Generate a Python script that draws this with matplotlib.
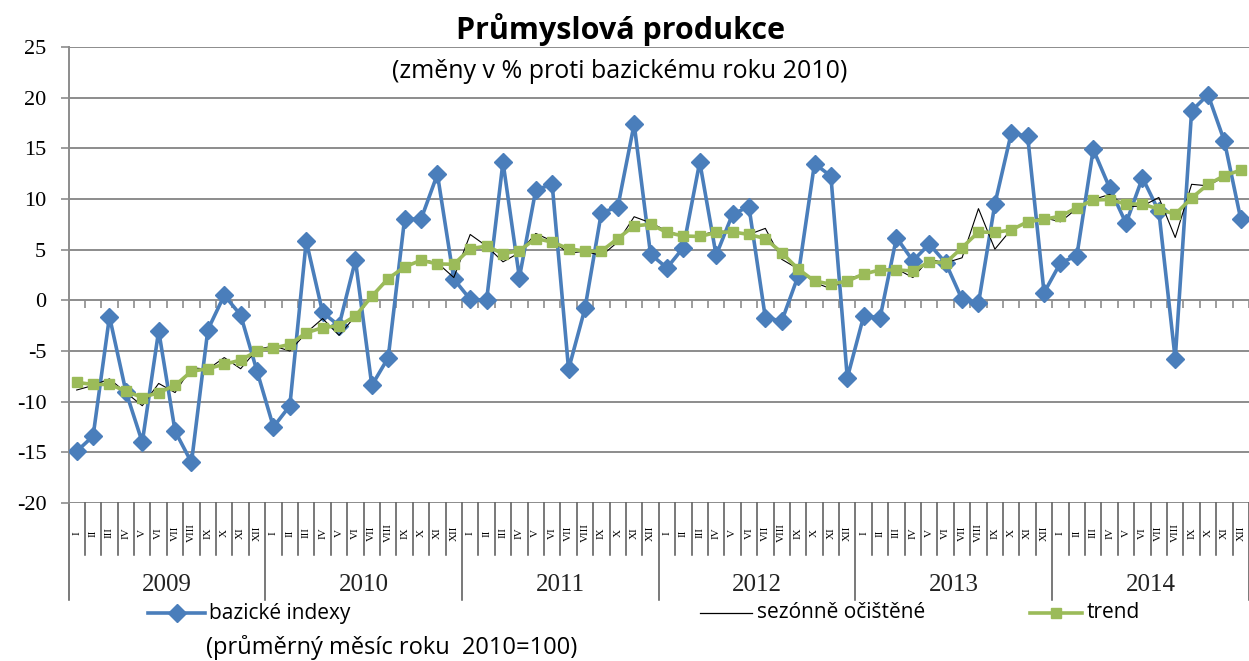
import matplotlib
matplotlib.use("Agg")
import matplotlib.pyplot as plt
from matplotlib.lines import Line2D
import matplotlib.transforms as mtransforms

plt.rcParams['axes.unicode_minus'] = False

# ---------------- data ----------------
years = ["2009", "2010", "2011", "2012", "2013", "2014"]
months = ["I", "II", "III", "IV", "V", "VI", "VII", "VIII", "IX", "X", "XI", "XII"]

bazicke = [-14.9, -13.4, -1.6, -9.0, -14.0, -3.0, -12.9, -16.0, -2.9, 0.5, -1.45, -7.0,
           -12.5, -10.4, 5.85, -1.2, -2.5, 3.95, -8.4, -5.65, 8.05, 8.0, 12.45, 2.1,
           0.1, 0.0, 13.65, 2.25, 10.9, 11.45, -6.8, -0.8, 8.65, 9.2, 17.4, 4.55,
           3.2, 5.2, 13.65, 4.45, 8.5, 9.25, -1.7, -2.05, 2.4, 13.5, 12.25, -7.65,
           -1.55, -1.7, 6.2, 3.9, 5.55, 3.7, 0.1, -0.3, 9.5, 16.5, 16.2, 0.75,
           3.7, 4.4, 14.9, 11.1, 7.6, 12.1, 8.8, -5.8, 18.7, 20.3, 15.7, 8.0]

sezonne = [-8.85, -8.4, -7.75, -9.1, -10.4, -8.2, -9.1, -6.65, -6.8, -5.65, -6.75, -4.85,
           -4.5, -5.0, -3.2, -1.8, -3.45, -1.55, 0.5, 2.25, 3.2, 4.05, 3.7, 2.25,
           6.5, 5.35, 3.8, 4.7, 6.6, 5.85, 4.65, 4.85, 4.4, 5.75, 8.25, 7.65,
           6.85, 6.35, 6.4, 6.85, 6.75, 6.5, 7.1, 4.05, 3.1, 1.75, 1.15, 2.15,
           2.55, 3.05, 3.1, 2.25, 4.05, 3.7, 4.2, 9.05, 5.05, 7.0, 7.8, 8.15,
           7.75, 9.05, 9.95, 10.45, 9.25, 9.3, 10.15, 6.2, 11.45, 11.3, 12.2, 12.9]

trend = [-8.1, -8.3, -8.3, -8.95, -9.6, -9.1, -8.4, -7.0, -6.75, -6.3, -5.9, -5.0,
         -4.7, -4.35, -3.2, -2.7, -2.5, -1.55, 0.4, 2.15, 3.3, 3.95, 3.6, 3.55,
         5.1, 5.35, 4.6, 4.9, 6.1, 5.75, 5.1, 4.85, 4.85, 6.1, 7.35, 7.5,
         6.7, 6.35, 6.3, 6.7, 6.75, 6.5, 6.1, 4.7, 3.1, 1.9, 1.6, 1.9,
         2.6, 3.0, 3.0, 2.9, 3.8, 3.7, 5.2, 6.75, 6.7, 6.95, 7.75, 8.0,
         8.3, 9.15, 9.9, 9.95, 9.5, 9.5, 9.0, 8.5, 10.1, 11.45, 12.3, 12.85]

yticks = [-20, -15, -10, -5, 0, 5, 10, 15, 20, 25]

# ---------------- style ----------------
BLUE = "#4a7ebb"
GREEN = "#9bbb59"
GRID = "#8c8c8c"
SANS = ["Open Sans", "DejaVu Sans"]
SERIF = ["Liberation Serif", "DejaVu Serif"]

W, H = 1249, 661
fig = plt.figure(figsize=(W / 100, H / 100), dpi=100)
ax = fig.add_axes([68.5 / W, (H - 503) / H, (W - 68.5) / W, 456 / H])

n = len(bazicke)
x = list(range(n))

ax.plot(x, bazicke, color=BLUE, lw=2.6, marker="D", ms=9, mec=BLUE, mfc=BLUE, zorder=3,
        solid_joinstyle="miter")
ax.plot(x, sezonne, color="black", lw=0.8, zorder=4)
ax.plot(x, trend, color=GREEN, lw=2.6, marker="s", ms=6.5, mec=GREEN, mfc=GREEN, zorder=5)

ax.set_xlim(-0.5, n - 0.5)
ax.set_ylim(yticks[0], yticks[-1])
ax.set_yticks(yticks)
ax.set_yticklabels([str(v) for v in yticks], fontfamily=SERIF, fontsize=16)
ax.tick_params(axis="y", length=6, width=1.2, color=GRID, pad=10)
ax.set_xticks([])
ax.yaxis.grid(True, color=GRID, lw=1.4)
ax.set_axisbelow(True)
for s in ["top", "right", "bottom"]:
    ax.spines[s].set_visible(False)
ax.spines["left"].set_color(GRID)
ax.spines["left"].set_linewidth(1.4)

# small ticks on zero line at category boundaries
bounds = [i - 0.5 for i in range(n + 1)]
ax.vlines(bounds, -0.8, 0, color=GRID, lw=1.2, zorder=1)

# category axis (months + years) below plot
tr = mtransforms.blended_transform_factory(ax.transData, ax.transAxes)
y_month = (H - 533 - (H - 503)) / 456
y_msep = (H - 555 - (H - 503)) / 456
y_ysep = (H - 600 - (H - 503)) / 456
y_year = (H - 585 - (H - 503)) / 456

for i in range(n):
    ax.text(i, y_month, months[i % 12], rotation=90, ha="center", va="center",
            fontfamily=SERIF, fontsize=8, transform=tr, clip_on=False)
for b in bounds:
    k = int(round(b + 0.5))
    ybot = y_ysep if k % 12 == 0 else y_msep
    ax.add_line(Line2D([b, b], [0, ybot], color="#555555", lw=1.1, transform=tr, clip_on=False))
for j, yr in enumerate(years):
    ax.text(j * 12 + 5.5, y_year, yr, ha="center", va="center", fontfamily=SERIF,
            fontsize=18, color="#222222", transform=tr, clip_on=False)

# titles
fig.text(620 / W, (H - 30) / H, "Průmyslová produkce", ha="center", va="center",
         fontfamily=SANS, fontsize=22, fontweight="bold")
fig.text(620 / W, (H - 72) / H, "(změny v % proti bazickému roku 2010)", ha="center",
         va="center", fontfamily=SANS, fontsize=18)

# legend (manual)
def fy(py):
    return (H - py) / H

def fx(px):
    return px / W

ly = 613
fig.add_artist(Line2D([fx(148), fx(205)], [fy(ly), fy(ly)], color=BLUE, lw=2.6))
fig.add_artist(Line2D([fx(176.5)], [fy(ly)], color=BLUE, marker="D", ms=9))
fig.text(fx(209), fy(ly), "bazické indexy", ha="left", va="center", fontfamily=SANS, fontsize=15)
fig.text(fx(206), fy(647), "(průměrný měsíc roku  2010=100)", ha="left", va="center",
         fontfamily=SANS, fontsize=17)
fig.add_artist(Line2D([fx(700), fx(752)], [fy(ly), fy(ly)], color="black", lw=0.9))
fig.text(fx(757), fy(ly), "sezónně očištěné", ha="left", va="center", fontfamily=SANS, fontsize=15)
fig.add_artist(Line2D([fx(1030), fx(1082)], [fy(ly), fy(ly)], color=GREEN, lw=2.6))
fig.add_artist(Line2D([fx(1056)], [fy(ly)], color=GREEN, marker="s", ms=6.5))
fig.text(fx(1087), fy(ly), "trend", ha="left", va="center", fontfamily=SANS, fontsize=15)

fig.savefig("out.png", dpi=100)
